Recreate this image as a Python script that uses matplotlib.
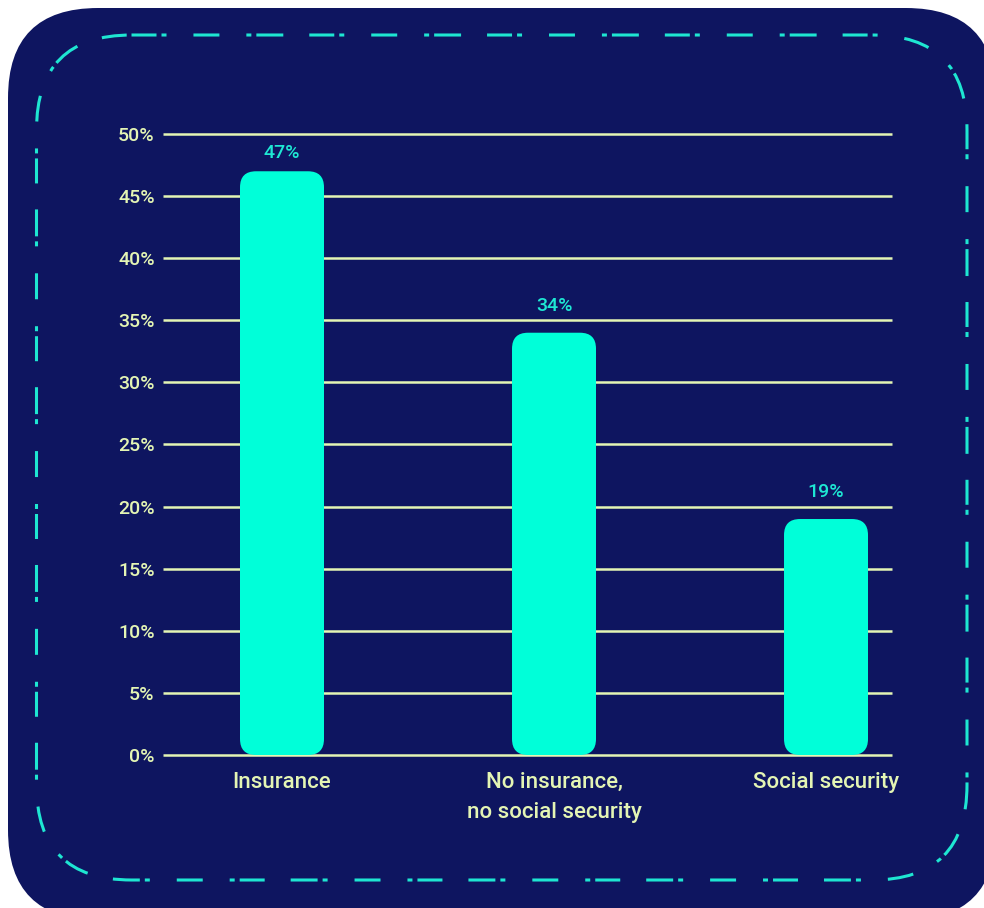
import matplotlib
matplotlib.use("Agg")
import matplotlib.pyplot as plt
from matplotlib.patches import FancyBboxPatch

# data
categories = ["Insurance", "No insurance,\nno social security", "Social security"]
shares = [47, 34, 19]
yticks = [0, 5, 10, 15, 20, 25, 30, 35, 40, 45, 50]

# colours
navy = "#0e1560"
aqua = "#00ffd9"
label_cyan = "#1ee8d4"
pale = "#e4f5b4"

plt.rcParams['font.family'] = ['Roboto', 'DejaVu Sans']
plt.rcParams['lines.scale_dashes'] = False

W, H = 984, 908
fig = plt.figure(figsize=(W / 100, H / 100), dpi=100)
fig.patch.set_facecolor("white")

# background card in pixel coordinates
bg = fig.add_axes([0, 0, 1, 1], zorder=0)
bg.set_xlim(0, W)
bg.set_ylim(H, 0)
bg.axis("off")
bg.add_patch(FancyBboxPatch((8, 8), 988, 912,
                            boxstyle="round,pad=0,rounding_size=90",
                            facecolor=navy, edgecolor="none"))
dash = (0, (18, 3.6, 3.6, 19.4, 18.7, 19.4, 3.6, 3.6, 19.4, 18.7))
bg.add_patch(FancyBboxPatch((36.5, 35), 930.5, 845,
                            boxstyle="round,pad=0,rounding_size=95",
                            facecolor="none", edgecolor="#1ee6d2",
                            linewidth=2.2, linestyle=dash, capstyle="butt"))

# chart area
x0, x1 = 163, 892
y0, y1 = 755, 134
ax = fig.add_axes([x0 / W, (H - y0) / H, (x1 - x0) / W, (y0 - y1) / H], zorder=1)
ax.set_facecolor("none")
xmin, xmax = -0.4375, 2.2426
ax.set_xlim(xmin, xmax)
ax.set_ylim(0, 50)
for s in ax.spines.values():
    s.set_visible(False)

ax.hlines(yticks, xmin, xmax, colors=pale, linewidth=1.8, zorder=1, clip_on=False)

px_x = (x1 - x0) / (xmax - xmin)
px_y = (y0 - y1) / 50.0
bw = 84 / px_x
r = 16 / px_x
for i, v in enumerate(shares):
    ax.add_patch(FancyBboxPatch((i - bw / 2, 0), bw, v,
                                boxstyle=f"round,pad=0,rounding_size={r}",
                                mutation_aspect=px_x / px_y,
                                facecolor=aqua, edgecolor="none", zorder=2))
    # labels sit higher above the bar, except where the plot top squeezes them
    off = 13 if v > 45 else 19.5
    ax.annotate(f"{v}%", (i, v), xytext=(0, off), textcoords="offset points",
                ha="center", va="center", color=label_cyan,
                fontsize=14, fontweight="medium")

ax.set_yticks(yticks)
ax.set_yticklabels([f"{t}%" for t in yticks])
ax.set_xticks(range(len(categories)))
ax.set_xticklabels(categories, linespacing=1.6, va="top")
ax.tick_params(axis="y", length=0, pad=6, labelsize=14, labelcolor=pale)
ax.tick_params(axis="x", length=0, pad=12, labelsize=16, labelcolor=pale)
for t in ax.get_yticklabels() + ax.get_xticklabels():
    t.set_fontweight("medium")

fig.savefig("out.png", dpi=100, facecolor="white")
